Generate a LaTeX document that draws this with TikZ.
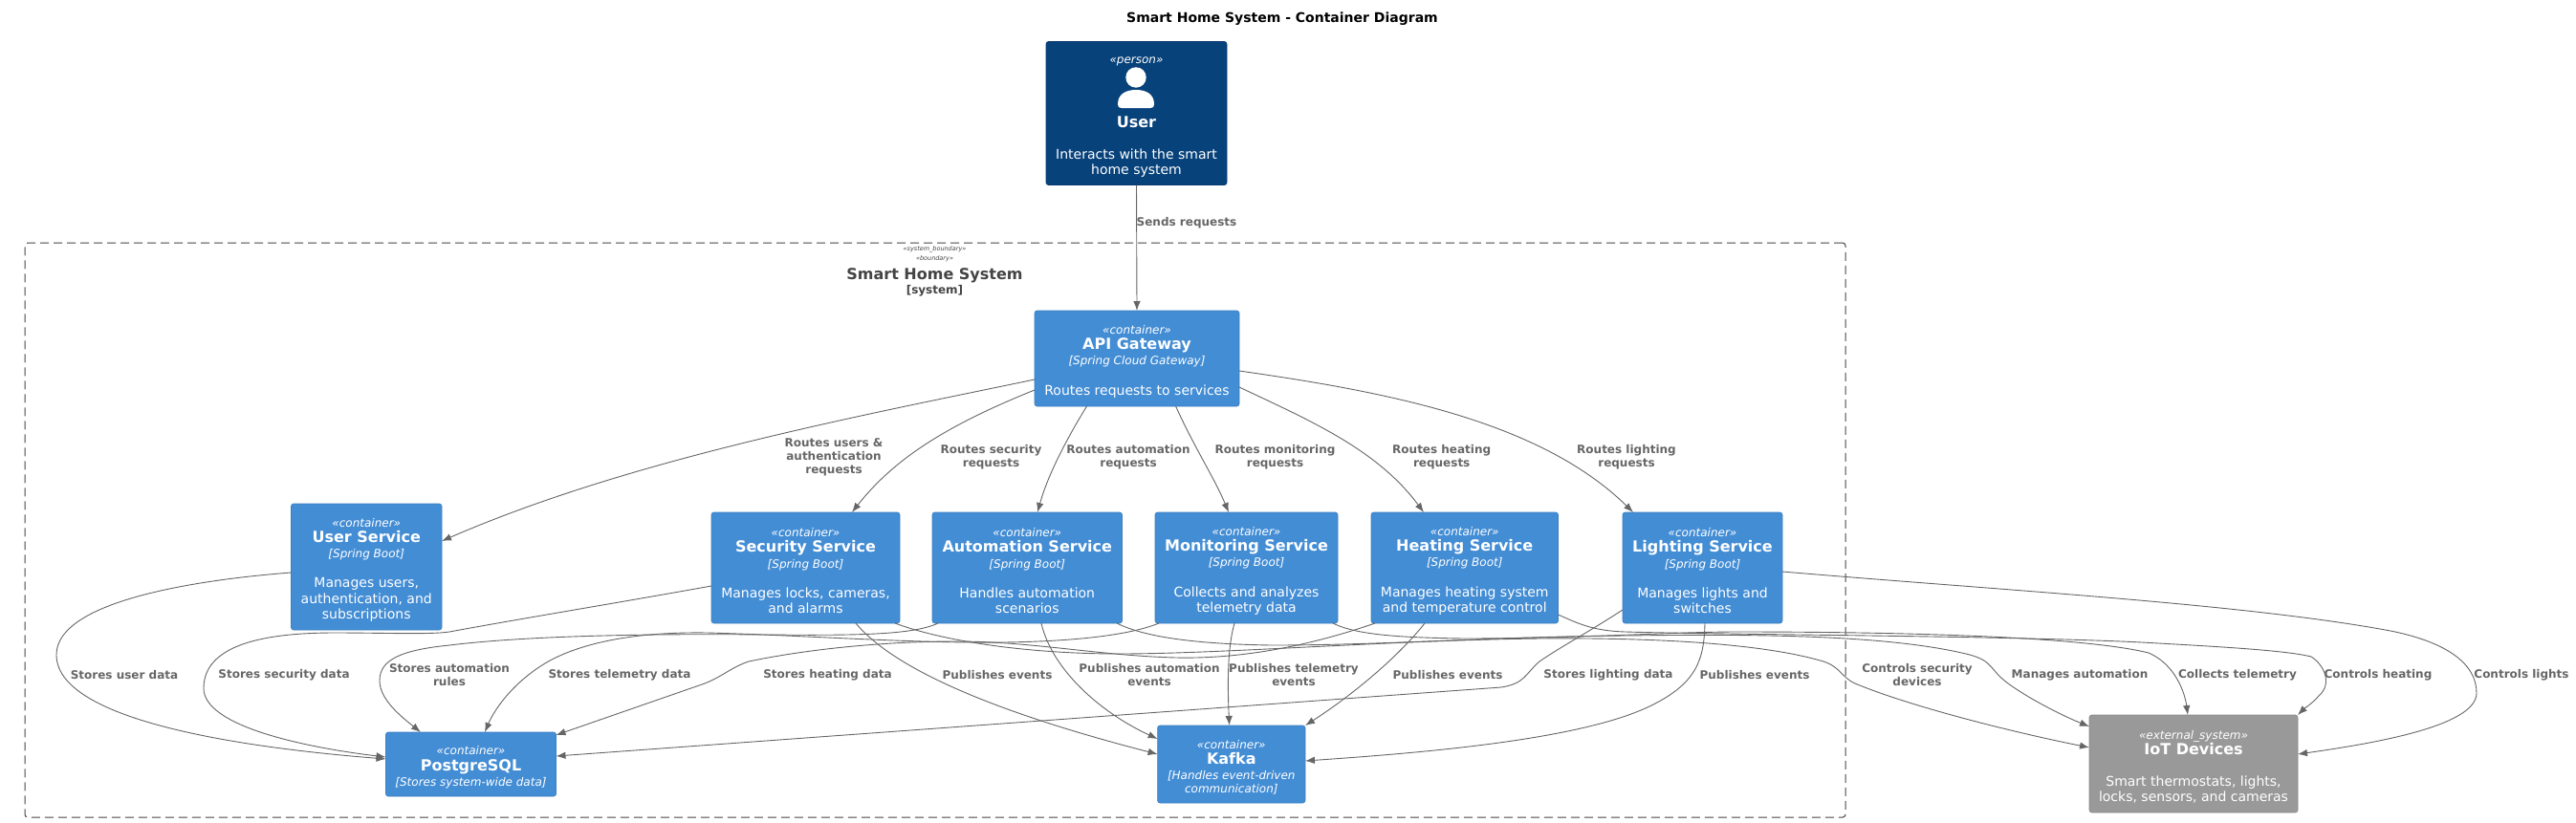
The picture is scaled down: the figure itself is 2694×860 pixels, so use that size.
\documentclass[tikz,border=0pt]{standalone}
\usepackage{fontspec}
\setmainfont{DejaVu Sans}
\usepackage{tikz}
\usetikzlibrary{positioning, arrows.meta}

\definecolor{containerblue}{HTML}{438DD5}
\definecolor{containeredge}{HTML}{3C7FC0}
\definecolor{personblue}{HTML}{08427B}
\definecolor{personedge}{HTML}{073B6F}
\definecolor{externalgrey}{HTML}{999999}
\definecolor{externaledge}{HTML}{8A8A8A}
\definecolor{relgrey}{HTML}{666666}
\definecolor{boundarygrey}{HTML}{444444}

\newcommand{\Stereo}[1]{{\fontsize{12}{16.3}\selectfont\itshape #1}}
\newcommand{\Head}[1]{\rule{0pt}{15.5pt}\Stereo{#1}}
\newcommand{\Name}[1]{{\fontsize{16}{16.3}\selectfont\bfseries #1}}

\tikzstyle{Box} = [
inner sep=0pt, outer sep=0pt,
rounded corners=2.5pt,
line width=0.6pt,
text=white,
align=center,
font=\fontsize{14}{16.3}\selectfont]
\tikzstyle{Container} = [Box, fill=containerblue, draw=containeredge, minimum height=116pt]
\tikzstyle{Person} = [Box, fill=personblue, draw=personedge]
\tikzstyle{External} = [Box, fill=externalgrey, draw=externaledge]
\tikzstyle{Boundary} = [
draw=boundarygrey, line width=1pt, rounded corners=3pt,
dash pattern=on 9pt off 5pt,
inner sep=0pt, outer sep=0pt]
\tikzstyle{Arrow} = [
draw=relgrey, line width=0.9pt,
-{Latex[length=10pt, width=7.5pt, fill=relgrey]}]
\tikzstyle{Label} = [
text=relgrey, align=center, inner sep=0pt, yshift=-1.2pt,
font=\fontsize{12}{14}\selectfont\bfseries]

\begin{document}
\begin{tikzpicture}[x=1pt, y=-1pt]
    \useasboundingbox (0,0) rectangle (2694,860);

    \node [font=\fontsize{14}{16}\selectfont\bfseries, inner sep=0pt] (title) at (1341,19.5) {Smart Home System - Container Diagram};

    % system boundary
    \node [Boundary, minimum width=1904pt, minimum height=601pt] (boundary) at (978,554.5) {};
    \node [text=boundarygrey, inner sep=0pt, font=\fontsize{6.5}{8}\selectfont\itshape] (boundarystereo) at (977.5,260.5) {«system\_boundary»};
    \node [text=boundarygrey, inner sep=0pt, font=\fontsize{6.5}{8}\selectfont\itshape] (boundarykind) at (977.5,270.5) {«boundary»};
    \node [text=boundarygrey, inner sep=0pt, font=\fontsize{16}{18}\selectfont\bfseries] (boundaryname) at (977.5,288) {Smart Home System};
    \node [text=boundarygrey, inner sep=0pt, font=\fontsize{12}{14}\selectfont\bfseries] (boundarytype) at (977.5,304) {[system]};

    % person
    \node [Person, minimum width=189pt, minimum height=150pt] (person) at (1188.5,118.5)
        {\Head{«person»}\\[51pt] \Name{User}\\[16.5pt] Interacts with the smart\\ home system};
    \fill [white] (1188,81) circle (10.7);
    \fill [white] (1169,109) .. controls (1169,98) and (1178,94) .. (1188,94)
        .. controls (1198,94) and (1207,98) .. (1207,109)
        .. controls (1207,112) and (1206,113) .. (1203,113) -- (1173,113)
        .. controls (1170,113) and (1169,112) .. (1169,109) -- cycle;

    % containers
    \node [Container, minimum width=214pt, minimum height=100pt] (gateway) at (1189,375)
        {\Head{«container»}\\ \Name{API Gateway}\\ \Stereo{[Spring Cloud Gateway]}\\[15pt] Routes requests to services};
    \node [Container, minimum width=157.5pt, minimum height=132pt] (user) at (383.25,593)
        {\Head{«container»}\\ \Name{User Service}\\ \Stereo{[Spring Boot]}\\[15pt] Manages users,\\ authentication, and\\ subscriptions};
    \node [Container, minimum width=197pt] (security) at (842.5,594)
        {\Head{«container»}\\ \Name{Security Service}\\ \Stereo{[Spring Boot]}\\[15pt] Manages locks, cameras,\\ and alarms};
    \node [Container, minimum width=198.5pt, right=34pt of security] (automation)
        {\Head{«container»}\\ \Name{Automation Service}\\ \Stereo{[Spring Boot]}\\[15pt] Handles automation\\ scenarios};
    \node [Container, minimum width=191pt, right=34.5pt of automation] (monitoring)
        {\Head{«container»}\\ \Name{Monitoring Service}\\ \Stereo{[Spring Boot]}\\[15pt] Collects and analyzes\\ telemetry data};
    \node [Container, minimum width=195.5pt, right=35pt of monitoring] (heating)
        {\Head{«container»}\\ \Name{Heating Service}\\ \Stereo{[Spring Boot]}\\[15pt] Manages heating system\\ and temperature control};
    \node [Container, minimum width=167pt, right=67.5pt of heating] (lighting)
        {\Head{«container»}\\ \Name{Lighting Service}\\ \Stereo{[Spring Boot]}\\[15pt] Manages lights and\\ switches};
    \node [Container, minimum width=178pt, minimum height=67pt] (postgres) at (492.5,799.5)
        {\Head{«container»}\\ \Name{PostgreSQL}\\ \Stereo{[Stores system-wide data]}};
    \node [Container, minimum width=154.4pt, minimum height=81pt] (kafka) at (1287.8,799.5)
        {\Head{«container»}\\ \Name{Kafka}\\ \Stereo{[Handles event-driven}\\[-2pt] \Stereo{communication]}};
    \node [External, minimum width=218pt, minimum height=102pt] (iot) at (2294,799)
        {\Head{«external\_system»}\\ \Name{IoT Devices}\\[16pt] Smart thermostats, lights,\\ locks, sensors, and cameras};

    % relations from the person and the gateway
    \draw [Arrow] (person.south) -- (gateway.north);
    \draw [Arrow] ([yshift=-22pt]gateway.west) .. controls (900,435) and (660,480) .. ([yshift=27pt]user.east);
    \draw [Arrow] ([yshift=-33pt]gateway.west) .. controls (990,445) and (935,480) .. ([xshift=48.5pt]security.north);
    \draw [Arrow] ([xshift=-52.5pt]gateway.south) .. controls (1112,465) and (1095,500) .. ([xshift=10.75pt]automation.north);
    \draw [Arrow] ([xshift=40.6pt]gateway.south) .. controls (1250,470) and (1270,500) .. ([xshift=-18.5pt]monitoring.north);
    \draw [Arrow] ([yshift=-30pt]gateway.east) .. controls (1370,440) and (1440,470) .. ([xshift=-42.75pt]heating.north);
    \draw [Arrow] ([yshift=-13pt]gateway.east) .. controls (1450,410) and (1610,440) .. ([xshift=-72.5pt]lighting.north);

    % stores
    \draw [Arrow] ([yshift=-6pt]user.west) .. controls (200,607) and (59,630) .. (59,685)
        .. controls (59,760) and (290,785) .. ([yshift=5.5pt]postgres.west);
    \draw [Arrow] ([yshift=-19pt]security.west) .. controls (650,630) and (540,648) .. (470,661)
        .. controls (450,664) and (400,662) .. (350,662)
        .. controls (290,662) and (213,670) .. (213,720)
        .. controls (213,760) and (320,782) .. ([yshift=7.5pt]postgres.west);
    \draw [Arrow] ([xshift=-93.25pt]automation.south) .. controls (955,664) and (900,665) .. (800,664)
        .. controls (700,663) and (560,664) .. (470,675)
        .. controls (420,680) and (397,690) .. (397,712)
        .. controls (397,732) and (420,750) .. ([xshift=-52.5pt]postgres.north);
    \draw [Arrow] ([xshift=-91.5pt]monitoring.south) .. controls (1180,665) and (1120,671) .. (1050,672)
        .. controls (950,673) and (850,665) .. (740,662)
        .. controls (680,661) and (620,668) .. (577,690)
        .. controls (540,710) and (518,740) .. ([xshift=14.5pt]postgres.north);
    \draw [Arrow] ([xshift=-93.75pt]heating.south) .. controls (1400,665) and (1320,690) .. (1230,688)
        .. controls (1150,686) and (1080,671) .. (1000,671)
        .. controls (920,671) and (840,680) .. (783,692)
        .. controls (765,698) and (755,708) .. (737,715) -- ([yshift=30.5pt]postgres.east);
    \draw [Arrow] ([yshift=-44pt]lighting.west) .. controls (1660,662) and (1630,678) .. (1610,692)
        .. controls (1595,705) and (1595,715) .. (1570,719) -- ([yshift=8.5pt]postgres.east);

    % publishes
    \draw [Arrow] ([xshift=52.5pt]security.south) .. controls (935,700) and (1040,745) .. ([yshift=10.5pt]kafka.west);
    \draw [Arrow] ([xshift=14.75pt]automation.south) .. controls (1100,700) and (1150,745) .. ([yshift=26.5pt]kafka.west);
    \draw [Arrow] ([xshift=-12.5pt]monitoring.south) .. controls (1283,680) and (1284,720) .. ([xshift=-2.2pt]kafka.north);
    \draw [Arrow] ([xshift=-41.75pt]heating.south) .. controls (1460,690) and (1410,730) .. (kafka.north east);
    \draw [Arrow] ([xshift=2.5pt]lighting.south) .. controls (1782,690) and (1775,715) .. (1725,739)
        .. controls (1650,775) and (1480,788) .. ([yshift=3.5pt]kafka.east);

    % controls
    \draw [Arrow] ([xshift=93.5pt]security.south) .. controls (990,672) and (1080,684) .. (1170,684)
        .. controls (1280,684) and (1450,670) .. (1610,668)
        .. controls (1720,667) and (1840,672) .. (1907,692)
        .. controls (1925,698) and (1925,708) .. (1940,715)
        .. controls (1995,738) and (2100,765) .. ([yshift=17pt]iot.west);
    \draw [Arrow] ([xshift=93.75pt]automation.south) .. controls (1200,668) and (1260,674) .. (1330,675)
        .. controls (1450,675) and (1560,666) .. (1700,665)
        .. controls (1850,663) and (1980,665) .. (2060,685)
        .. controls (2085,692) and (2080,700) .. (2100,715)
        .. controls (2125,733) and (2160,750) .. ([yshift=39pt]iot.west);
    \draw [Arrow] ([xshift=90.5pt]monitoring.south) .. controls (1420,665) and (1470,667) .. (1530,668)
        .. controls (1650,668) and (1750,661) .. (1817,661)
        .. controls (1950,661) and (2170,664) .. (2247,683)
        .. controls (2275,695) and (2285,725) .. ([xshift=-6pt]iot.north);
    \draw [Arrow] ([yshift=-49pt]heating.east) .. controls (1650,652) and (1665,660) .. (1700,661)
        .. controls (1800,664) and (2100,665) .. (2240,672)
        .. controls (2310,676) and (2390,680) .. (2417,687)
        .. controls (2430,695) and (2440,715) .. (2425,728)
        .. controls (2417,737) and (2410,741) .. (iot.north east);
    \draw [Arrow] ([yshift=-4pt]lighting.east) .. controls (2100,618) and (2350,632) .. (2500,660)
        .. controls (2560,672) and (2590,695) .. (2590,725)
        .. controls (2590,760) and (2480,778) .. ([yshift=10pt]iot.east);

    % relation labels
    \node [Label] (sends) at (1241,232) {Sends requests};
    \node [Label] (routesusers) at (872,477) {Routes users \&\\ authentication\\ requests};
    \node [Label] (routessecurity) at (1036.5,477) {Routes security\\ requests};
    \node [Label] (routesautomation) at (1180,477) {Routes automation\\ requests};
    \node [Label] (routesmonitoring) at (1333.5,477) {Routes monitoring\\ requests};
    \node [Label] (routesheating) at (1507.7,477) {Routes heating\\ requests};
    \node [Label] (routeslighting) at (1701,477) {Routes lighting\\ requests};
    \node [Label] (storesuser) at (130,705) {Stores user data};
    \node [Label] (storessecurity) at (297,705) {Stores security data};
    \node [Label] (storesautomation) at (470,705) {Stores automation\\ rules};
    \node [Label] (storestelemetry) at (648,705) {Stores telemetry data};
    \node [Label] (storesheating) at (865.5,705) {Stores heating data};
    \node [Label] (pubsecurity) at (1043,705) {Publishes events};
    \node [Label] (pubautomation) at (1202,705) {Publishes automation\\ events};
    \node [Label] (pubtelemetry) at (1353,705) {Publishes telemetry\\ events};
    \node [Label] (pubheating) at (1514,705) {Publishes events};
    \node [Label] (storeslighting) at (1682,705) {Stores lighting data};
    \node [Label] (publighting) at (1835,705) {Publishes events};
    \node [Label] (ctlsecurity) at (2005,705) {Controls security\\ devices};
    \node [Label] (ctlautomation) at (2175,705) {Manages automation};
    \node [Label] (ctltelemetry) at (2340,705) {Collects telemetry};
    \node [Label] (ctlheating) at (2487,705) {Controls heating};
    \node [Label] (ctllights) at (2637,705) {Controls lights};
\end{tikzpicture}
\end{document}
